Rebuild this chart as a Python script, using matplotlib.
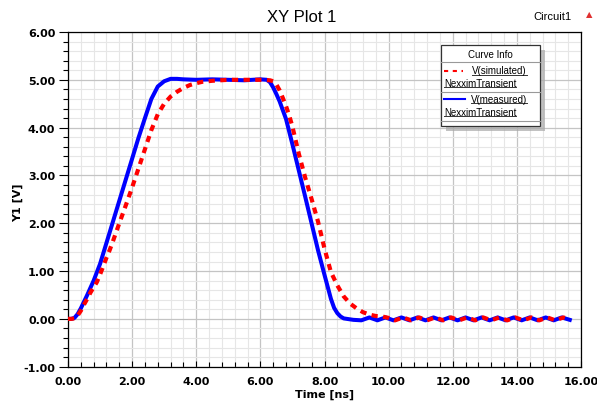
import matplotlib
matplotlib.use("Agg")
import matplotlib.pyplot as plt
from matplotlib.patches import Rectangle
from matplotlib.lines import Line2D
from matplotlib.ticker import MultipleLocator, FormatStrFormatter

# V(measured) - blue solid
t_meas = [0.0, 0.1, 0.2, 0.3, 0.4, 0.5, 0.6, 0.8, 1.0, 1.2, 1.4, 1.6, 1.8, 2.0,
          2.2, 2.4, 2.6, 2.8, 3.0, 3.2, 3.4, 3.6, 4.0, 4.5, 5.0, 5.5, 6.0, 6.2,
          6.3, 6.4, 6.5, 6.6, 6.8, 7.0, 7.2, 7.4, 7.6, 7.8, 8.0, 8.2, 8.3, 8.4,
          8.5, 8.6, 8.7, 8.9, 9.15, 9.4, 9.65, 9.9, 10.15, 10.4, 10.65, 10.9,
          11.15, 11.4, 11.65, 11.9, 12.15, 12.4, 12.65, 12.9, 13.15, 13.4, 13.65,
          13.9, 14.15, 14.4, 14.65, 14.9, 15.15, 15.4, 15.65]
v_meas = [0.0, 0.0, 0.02, 0.1, 0.22, 0.36, 0.5, 0.8, 1.15, 1.59, 2.03, 2.47, 2.91, 3.35,
          3.79, 4.2, 4.6, 4.86, 4.97, 5.02, 5.02, 5.01, 5.0, 5.01, 5.0, 4.99, 5.01, 5.0,
          4.95, 4.84, 4.7, 4.55, 4.18, 3.65, 3.1, 2.55, 1.99, 1.43, 0.92, 0.42, 0.23, 0.12,
          0.05, 0.01, 0.0, -0.02, -0.03, 0.03, -0.03, 0.03, -0.03, 0.03, -0.03, 0.03,
          -0.03, 0.03, -0.03, 0.03, -0.03, 0.03, -0.03, 0.03, -0.03, 0.03, -0.03,
          0.03, -0.03, 0.03, -0.03, 0.03, -0.03, 0.03, -0.02]

# V(simulated) - red dashed
t_sim = [0.0, 0.1, 0.2, 0.3, 0.4, 0.5, 0.6, 0.7, 0.8, 0.9, 1.0, 1.1, 1.2, 1.3, 1.4,
         1.6, 1.8, 2.0, 2.2, 2.4, 2.6, 2.8, 3.0, 3.2, 3.4, 3.6, 3.8, 4.0, 4.2, 4.5,
         5.0, 5.5, 6.0, 6.3, 6.4, 6.5, 6.6, 6.7, 6.8, 6.9, 7.0, 7.2, 7.4, 7.6, 7.8,
         8.0, 8.2, 8.4, 8.6, 8.8, 9.0, 9.2, 9.4, 9.6, 9.8, 10.0, 10.2, 10.45, 10.7,
         10.95, 11.2, 11.45, 11.7, 11.95, 12.2, 12.45, 12.7, 12.95, 13.2, 13.45,
         13.7, 13.95, 14.2, 14.45, 14.7, 14.95, 15.2, 15.45, 15.6]
v_sim = [0.0, 0.0, 0.01, 0.07, 0.17, 0.3, 0.42, 0.55, 0.66, 0.77, 0.93, 1.1, 1.28, 1.44, 1.62,
         2.0, 2.37, 2.75, 3.15, 3.55, 3.95, 4.28, 4.5, 4.65, 4.75, 4.83, 4.89, 4.93, 4.96, 4.98,
         5.0, 5.0, 5.0, 4.99, 4.97, 4.9, 4.78, 4.62, 4.45, 4.25, 4.02, 3.45, 2.95, 2.5, 2.03,
         1.47, 0.98, 0.7, 0.47, 0.32, 0.22, 0.14, 0.09, 0.06, 0.05, 0.02, -0.03, 0.03, -0.03,
         0.03, -0.03, 0.03, -0.03, 0.03, -0.03, 0.03, -0.03, 0.03, -0.03, 0.03,
         -0.03, 0.03, -0.03, 0.03, -0.03, 0.03, -0.03, 0.03, 0.0]

W, H = 597, 402
fig = plt.figure(figsize=(W / 100, H / 100), dpi=100)
ax = fig.add_axes([68 / W, 1 - 367.7 / H, (581 - 68) / W, (367.7 - 33) / H])

ax.plot(t_meas, v_meas, color="#0000ff", lw=2.9, solid_joinstyle="round", zorder=3)
ax.plot(t_sim, v_sim, color="#ff0000", lw=3.0, dashes=(1.5, 1.3), zorder=4)

ax.set_xlim(0, 16)
ax.set_ylim(-1, 6)
ax.xaxis.set_major_locator(MultipleLocator(2))
ax.xaxis.set_minor_locator(MultipleLocator(0.4))
ax.yaxis.set_major_locator(MultipleLocator(1))
ax.yaxis.set_minor_locator(MultipleLocator(0.2))
ax.xaxis.set_major_formatter(FormatStrFormatter("%.2f"))
ax.yaxis.set_major_formatter(FormatStrFormatter("%.2f"))

ax.grid(which="major", color="#c4c4c4", lw=0.9, zorder=0)
ax.grid(which="minor", color="#e6e6e6", lw=0.8, zorder=0)
ax.set_axisbelow(True)

ax.tick_params(axis="y", which="major", direction="out", length=6.2, width=0.8, pad=3)
ax.tick_params(axis="y", which="minor", direction="out", length=3.5, width=0.8)
ax.tick_params(axis="x", which="major", direction="in", length=4.5, width=0.8, pad=7)
ax.tick_params(axis="x", which="minor", direction="in", length=3.5, width=0.8)
for lab in ax.get_xticklabels() + ax.get_yticklabels():
    lab.set_fontfamily("DejaVu Sans")
    lab.set_fontweight("bold")
    lab.set_fontsize(8)
for sp in ax.spines.values():
    sp.set_linewidth(0.9)

fig.text(18 / W, 1 - 203 / H, "Y1 [V]", rotation=90, ha="center", va="center",
         fontsize=8, fontweight="bold", family="DejaVu Sans")
fig.text(325 / W, 1 - 395 / H, "Time [ns]", ha="center", va="center",
         fontsize=8, fontweight="bold", family="DejaVu Sans")
fig.text(302 / W, 1 - 17 / H, "XY Plot 1", ha="center", va="center",
         fontsize=12, family="Liberation Sans")
fig.text(552 / W, 1 - 17 / H, "Circuit1", ha="center", va="center",
         fontsize=8, family="Liberation Sans")
fig.text(589 / W, 1 - 15 / H, "\u25b2", ha="center", va="center",
         fontsize=6, color="#e03030", family="DejaVu Sans")


# legend box ("Curve Info"), drawn in pixel coordinates
def fx(x):
    return x / W


def fy(y):
    return 1 - y / H


lx0, lx1, ly0, ly1 = 441, 540, 46, 127
fig.patches.append(Rectangle((fx(lx0 + 5), fy(ly1 + 5)), (lx1 - lx0) / W, (ly1 - ly0) / H,
                             transform=fig.transFigure, facecolor="#a8a8a8",
                             edgecolor="none", alpha=0.7, zorder=5))
fig.patches.append(Rectangle((fx(lx0), fy(ly1)), (lx1 - lx0) / W, (ly1 - ly0) / H,
                             transform=fig.transFigure, facecolor="white",
                             edgecolor="#333333", lw=0.9, zorder=6))
for ysep in [63.3, 93, 121.7]:
    fig.lines.append(Line2D([fx(lx0), fx(lx1)], [fy(ysep), fy(ysep)],
                            transform=fig.transFigure, color="#999999", lw=0.8, zorder=7))

fig.text(fx(490), fy(55), "Curve Info", ha="center", va="center",
         fontsize=7, family="Liberation Sans", zorder=8)
fig.lines.append(Line2D([fx(444), fx(463)], [fy(71.7), fy(71.7)], transform=fig.transFigure,
                        color="#ff0000", lw=1.5, dashes=(2, 2.2), zorder=8))
fig.lines.append(Line2D([fx(444), fx(465)], [fy(100), fy(100)], transform=fig.transFigure,
                        color="#0000ff", lw=1.5, zorder=8))

legend_texts = [
    (fig.text(fx(527), fy(71.5), "V(simulated)", ha="right", va="center",
              fontsize=7, family="Liberation Sans", zorder=8)),
    (fig.text(fx(444), fy(84), "NexximTransient", ha="left", va="center",
              fontsize=7, family="Liberation Sans", zorder=8)),
    (fig.text(fx(527), fy(100), "V(measured)", ha="right", va="center",
              fontsize=7, family="Liberation Sans", zorder=8)),
    (fig.text(fx(444), fy(112.5), "NexximTransient", ha="left", va="center",
              fontsize=7, family="Liberation Sans", zorder=8)),
]

# underline legend entries
fig.canvas.draw()
renderer = fig.canvas.get_renderer()
inv = fig.transFigure.inverted()
for t in legend_texts:
    bb = t.get_window_extent(renderer)
    (x0, y0), (x1, _) = inv.transform([(bb.x0, bb.y0 + 1), (bb.x1, bb.y0 + 1)])
    fig.lines.append(Line2D([x0, x1], [y0, y0], transform=fig.transFigure,
                            color="#333333", lw=0.7, zorder=8))

fig.savefig("out.png", dpi=100, facecolor="white")
